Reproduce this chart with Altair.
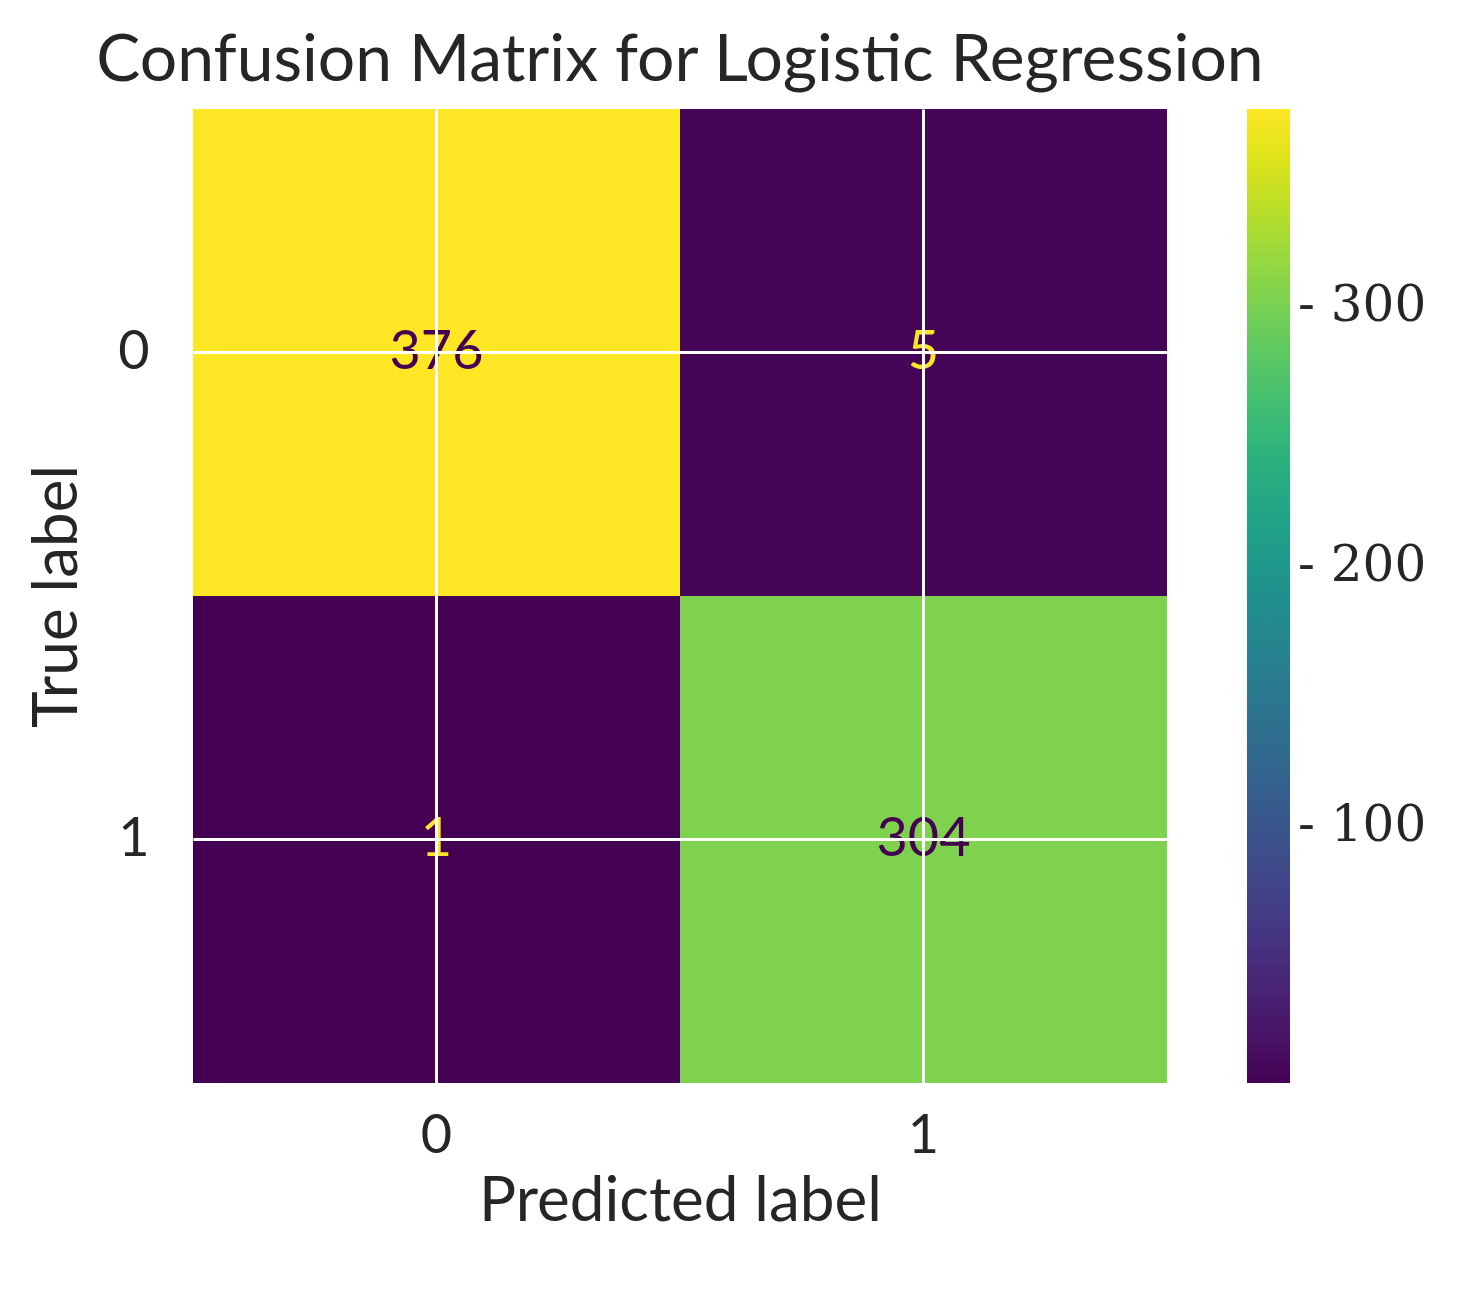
import altair as alt
import pandas as pd

true_labels = ["0", "0", "1", "1"]
pred_labels = ["0", "1", "0", "1"]
counts = [376, 5, 1, 304]

df = pd.DataFrame({"true": true_labels, "pred": pred_labels, "count": counts})
df["txtcolor"] = ["dark" if c > 188 else "light" for c in counts]

FONT = "Lato"

base = alt.Chart(df).encode(
    x=alt.X("pred:O", title="Predicted label", sort=["0", "1"]).axis(
        labelAngle=0, grid=True, bandPosition=0.5, gridColor="white",
        gridWidth=3, zindex=1, domain=False, ticks=False,
        labelFontSize=54, titleFontSize=62, labelPadding=26, titlePadding=8,
        labelFont=FONT, titleFont=FONT, labelColor="#262626", titleColor="#262626",
        titleFontWeight="normal",
    ),
    y=alt.Y("true:O", title="True label", sort=["0", "1"]).axis(
        grid=True, bandPosition=0.5, gridColor="white", gridWidth=3, zindex=1,
        domain=False, ticks=False, labelFontSize=54, titleFontSize=62,
        labelPadding=44, titlePadding=28, labelFont=FONT, titleFont=FONT,
        labelColor="#262626", titleColor="#262626", titleFontWeight="normal",
    ),
)

rect = base.mark_rect().encode(
    color=alt.Color("count:Q", title=None)
    .scale(scheme="viridis", domain=[1, 376])
    .legend(
        orient="right", offset=80, gradientLength=974, gradientThickness=43,
        values=[100, 200, 300], labelFontSize=50, labelFont="DejaVu Serif",
        labelColor="#262626", gradientStrokeWidth=0, labelOffset=8,
        direction="vertical", labelExpr="'- ' + datum.label",
    )
)

text = base.mark_text(fontSize=54, font=FONT).encode(
    text="count:Q",
    color=alt.Color("txtcolor:N", legend=None).scale(
        domain=["dark", "light"], range=["#440154", "#fde725"]
    ),
)

chart = (
    alt.layer(rect, text)
    .resolve_scale(color="independent")
    .properties(
        width=974,
        height=974,
        padding={"left": 18, "top": 20, "right": 5, "bottom": 5},
        title=alt.Title(
            "Confusion Matrix for Logistic Regression",
            fontSize=66, font=FONT, fontWeight="normal", color="#262626", offset=14,
        ),
    )
    .configure_view(stroke=None)
)

chart.save("out.html", embed_options={"renderer": "svg", "actions": False})
